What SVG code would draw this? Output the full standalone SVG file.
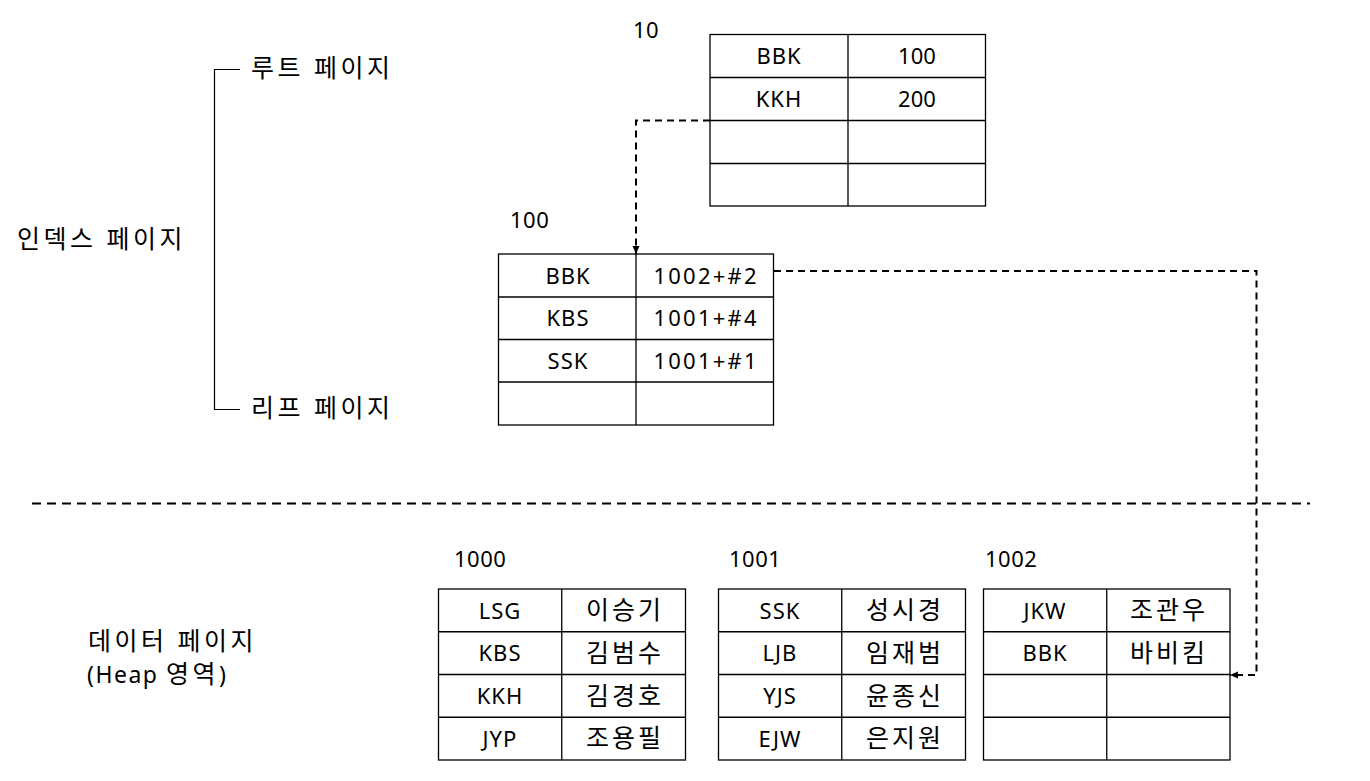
<svg xmlns="http://www.w3.org/2000/svg" width="1370" height="781" viewBox="0 0 1370 781">
<style>
text{font-family:"Noto Sans","Noto Sans CJK KR",sans-serif;font-size:22px;fill:#000}
.c{text-anchor:middle;letter-spacing:1px}
.n{text-anchor:middle}
.k{text-anchor:middle;letter-spacing:3px;font-size:25px}
.lk{letter-spacing:3.5px;font-size:25px}
.lt{letter-spacing:0.5px}
.h{font-size:25px;letter-spacing:3.5px}
.tb rect,.tb line{fill:none;stroke:#000;stroke-width:1.3}
.dash{fill:none;stroke:#000;stroke-width:2;stroke-dasharray:7 5}
</style>
<defs>
<marker id="arr" viewBox="0 0 8 8" refX="8" refY="4" markerWidth="8" markerHeight="8" markerUnits="userSpaceOnUse" orient="auto">
<path d="M0,0.5 L8,4 L0,7.5 z" fill="#000"/>
</marker>
</defs>
<rect width="1370" height="781" fill="#fff"/>

<g id="labels-left">
<path d="M240,69.5 H214.5 V409.5 H240" fill="none" stroke="#000" stroke-width="1.2"/>
<text class="lk" x="251" y="77">루트 페이지</text>
<text class="lk" x="251" y="417">리프 페이지</text>
<text class="lk" x="17" y="248">인덱스 페이지</text>
<text class="lk" x="88" y="650">데이터 페이지</text>
<text x="87" y="683" style="letter-spacing:1.5px;font-size:23px">(Heap <tspan class="h">영역</tspan>)</text>
</g>

<g id="separator">
<path d="M32,503.5 H1310" fill="none" stroke="#000" stroke-width="2" stroke-dasharray="9 6"/>
</g>

<g id="root-page" class="tb">
<text class="lt" x="633" y="38">10</text>
<rect x="710" y="34.5" width="275.5" height="171.5"/>
<line x1="848" y1="34.5" x2="848" y2="206"/>
<line x1="710" y1="77.5" x2="985.5" y2="77.5"/>
<line x1="710" y1="120.5" x2="985.5" y2="120.5"/>
<line x1="710" y1="163.5" x2="985.5" y2="163.5"/>
<text class="c" x="779" y="64">BBK</text>
<text class="n" x="917" y="64">100</text>
<text class="c" x="779" y="107">KKH</text>
<text class="n" x="917" y="107">200</text>
</g>

<g id="leaf-page" class="tb">
<text class="lt" x="510" y="228">100</text>
<rect x="498.5" y="254" width="275" height="171"/>
<line x1="636" y1="254" x2="636" y2="425"/>
<line x1="498.5" y1="297" x2="773.5" y2="297"/>
<line x1="498.5" y1="339.5" x2="773.5" y2="339.5"/>
<line x1="498.5" y1="382" x2="773.5" y2="382"/>
<text class="c" x="568" y="283.5">BBK</text>
<text class="n" x="705" y="283.5" textLength="103" lengthAdjust="spacing">1002+#2</text>
<text class="c" x="568" y="326">KBS</text>
<text class="n" x="705" y="326" textLength="103" lengthAdjust="spacing">1001+#4</text>
<text class="c" x="568" y="368.5">SSK</text>
<text class="n" x="705" y="368.5" textLength="103" lengthAdjust="spacing">1001+#1</text>
</g>

<g id="data-1000" class="tb">
<text class="lt" x="454" y="566.5">1000</text>
<rect x="438.5" y="589" width="247" height="171"/>
<line x1="561.75" y1="589" x2="561.75" y2="760"/>
<line x1="438.5" y1="631.75" x2="685.5" y2="631.75"/>
<line x1="438.5" y1="674.5" x2="685.5" y2="674.5"/>
<line x1="438.5" y1="717.25" x2="685.5" y2="717.25"/>
<text class="c" x="500" y="618.5">LSG</text>
<text class="k" x="625" y="619">이승기</text>
<text class="c" x="500" y="661">KBS</text>
<text class="k" x="625" y="662">김범수</text>
<text class="c" x="500" y="704">KKH</text>
<text class="k" x="625" y="704.5">김경호</text>
<text class="c" x="500" y="746.5">JYP</text>
<text class="k" x="625" y="747">조용필</text>
</g>

<g id="data-1001" class="tb">
<text class="lt" x="729" y="566.5">1001</text>
<rect x="718.5" y="589" width="247" height="171"/>
<line x1="841.75" y1="589" x2="841.75" y2="760"/>
<line x1="718.5" y1="631.75" x2="965.5" y2="631.75"/>
<line x1="718.5" y1="674.5" x2="965.5" y2="674.5"/>
<line x1="718.5" y1="717.25" x2="965.5" y2="717.25"/>
<text class="c" x="780" y="618.5">SSK</text>
<text class="k" x="905" y="619">성시경</text>
<text class="c" x="780" y="661">LJB</text>
<text class="k" x="905" y="662">임재범</text>
<text class="c" x="780" y="704">YJS</text>
<text class="k" x="905" y="704.5">윤종신</text>
<text class="c" x="780" y="746.5">EJW</text>
<text class="k" x="905" y="747">은지원</text>
</g>

<g id="data-1002" class="tb">
<text class="lt" x="985" y="567">1002</text>
<rect x="983.5" y="589" width="246.5" height="171"/>
<line x1="1106.75" y1="589" x2="1106.75" y2="760"/>
<line x1="983.5" y1="631.75" x2="1230" y2="631.75"/>
<line x1="983.5" y1="674.5" x2="1230" y2="674.5"/>
<line x1="983.5" y1="717.25" x2="1230" y2="717.25"/>
<text class="c" x="1045" y="618.5">JKW</text>
<text class="k" x="1169" y="619">조관우</text>
<text class="c" x="1045" y="661">BBK</text>
<text class="k" x="1169" y="662">바비킴</text>
</g>

<g id="connectors">
<path class="dash" d="M710,120.5 H636 V254" marker-end="url(#arr)"/>
<path class="dash" d="M774,271 H1256.5 V675 H1230" marker-end="url(#arr)"/>
</g>
</svg>
